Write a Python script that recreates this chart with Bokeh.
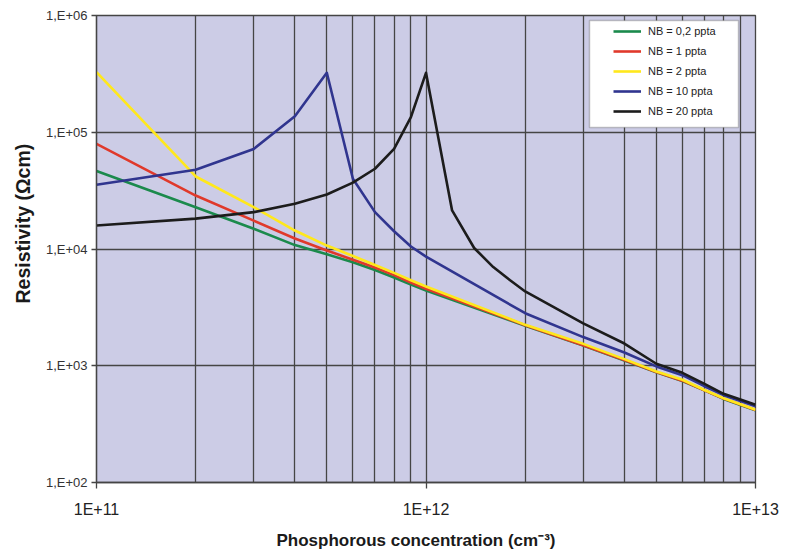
from bokeh.plotting import figure
from bokeh.models import FixedTicker, Legend, LegendItem, BoxAnnotation, Title
from bokeh.embed import file_html
from bokeh.resources import INLINE

# ---- data ----
conc = [1e11, 2e11, 3e11, 4e11, 5e11, 6e11, 7e11, 8e11, 9e11, 1e12,
        2e12, 3e12, 4e12, 5e12, 6e12, 7e12, 8e12, 9e12, 1e13]

rho_nb02 = [4.65e4, 2.28e4, 1.49e4, 1.08e4, 9.0e3, 7.7e3, 6.6e3, 5.7e3, 4.95e3, 4.4e3,
            2.2e3, 1.49e3, 1.11e3, 880, 740, 615, 520, 462, 415]
rho_nb1 = [7.96e4, 2.87e4, 1.75e4, 1.23e4, 9.7e3, 8.1e3, 6.95e3, 5.97e3, 5.17e3, 4.56e3,
           2.22e3, 1.5e3, 1.12e3, 885, 745, 617, 523, 465, 418]
rho_nb2 = [3.27e5, 4.18e4, 2.28e4, 1.44e4, 1.07e4, 8.7e3, 7.3e3, 6.25e3, 5.4e3, 4.78e3,
           2.24e3, 1.54e3, 1.14e3, 893, 758, 620, 527, 468, 420]
rho_nb10 = [3.55e4, 4.77e4, 7.2e4, 1.37e5, 3.23e5, 4.0e4, 2.07e4, 1.42e4, 1.05e4, 8.6e3,
            2.82e3, 1.76e3, 1.3e3, 987, 830, 668, 560, 500, 450]

conc_nb20 = [1e11, 2e11, 3e11, 4e11, 5e11, 6e11, 7e11, 8e11, 9e11, 1e12,
             1.2e12, 1.4e12, 1.6e12, 1.8e12, 2e12, 3e12, 4e12, 5e12,
             6e12, 7e12, 8e12, 9e12, 1e13]
rho_nb20 = [1.59e4, 1.82e4, 2.07e4, 2.44e4, 2.93e4, 3.7e4, 4.87e4, 7.2e4, 1.35e5, 3.23e5,
            2.14e4, 1.02e4, 7.0e3, 5.4e3, 4.33e3, 2.31e3, 1.55e3, 1.04e3,
            870, 700, 575, 514, 463]

series_labels = ["NB = 0,2 ppta", "NB = 1 ppta", "NB = 2 ppta", "NB = 10 ppta", "NB = 20 ppta"]
series_colors = ["#1B8A4C", "#E0392B", "#FFE81C", "#30358F", "#1C1C1C"]

x_ticks = [1e11, 1e12, 1e13]
x_tick_labels = ["1E+11", "1E+12", "1E+13"]
y_ticks = [1e2, 1e3, 1e4, 1e5, 1e6]
y_tick_labels = ["1,E+02", "1,E+03", "1,E+04", "1,E+05", "1,E+06"]
x_minor = [m * t for t in x_ticks[:-1] for m in range(2, 10)]

x_title = "Phosphorous concentration (cm\u207b\u00b3)"
y_title = "Resistivity (\u03a9cm)"

# ---- figure ----
p = figure(width=786, height=558, x_axis_type="log", y_axis_type="log",
           x_range=(1e11, 1e13), y_range=(1e2, 1e6),
           output_backend="svg", toolbar_location=None,
           min_border_left=95, min_border_right=31, min_border_top=15, min_border_bottom=76)

p.background_fill_color = "#CCCCE6"
p.border_fill_color = "white"
p.outline_line_color = "#454545"
p.outline_line_width = 1.3

grid_col = "#454545"
p.xaxis.ticker = FixedTicker(ticks=x_ticks, minor_ticks=x_minor)
p.yaxis.ticker = FixedTicker(ticks=y_ticks, minor_ticks=[])
p.xgrid.grid_line_color = grid_col
p.xgrid.grid_line_width = 1.3
p.xgrid.minor_grid_line_color = grid_col
p.xgrid.minor_grid_line_width = 1.3
p.ygrid.grid_line_color = grid_col
p.ygrid.grid_line_width = 1.3

p.xaxis.major_label_overrides = {t: l for t, l in zip(x_ticks, x_tick_labels)}
p.yaxis.major_label_overrides = {t: l for t, l in zip(y_ticks, y_tick_labels)}

for ax in (p.xaxis, p.yaxis):
    ax.axis_line_color = grid_col
    ax.axis_line_width = 1.3
    ax.major_tick_line_color = grid_col
    ax.major_tick_line_width = 1.3
    ax.major_tick_in = 0
    ax.minor_tick_line_color = None
    ax.major_label_text_font = "Liberation Sans"

p.xaxis.major_tick_out = 6
p.yaxis.major_tick_out = 5
p.xaxis.major_label_text_font_size = "16px"
p.xaxis.major_label_text_color = "#222222"
p.xaxis.major_label_standoff = 12
p.yaxis.major_label_text_font_size = "13px"
p.yaxis.major_label_text_color = "#333333"
p.yaxis.major_label_standoff = 4

# axis titles (as side titles so they can be offset like the reference)
p.add_layout(Title(text=x_title, align="left", offset=180, standoff=16,
                   text_font="Liberation Sans", text_font_style="bold",
                   text_font_size="17px", text_color="#1a1a1a"), "below")
p.add_layout(Title(text=y_title, align="left", offset=179, standoff=18,
                   text_font="Liberation Sans", text_font_style="bold",
                   text_font_size="19.5px", text_color="#1a1a1a"), "left")

# ---- curves ----
xs = [conc, conc, conc, conc, conc_nb20]
ys = [rho_nb02, rho_nb1, rho_nb2, rho_nb10, rho_nb20]
renderers = []
for xv, yv, c in zip(xs, ys, series_colors):
    r = p.line(xv, yv, line_color=c, line_width=2.6, line_join="round")
    renderers.append(r)

# ---- legend ----
box = BoxAnnotation(left=493, right=642, bottom=355, top=462,
                    left_units="screen", right_units="screen",
                    bottom_units="screen", top_units="screen",
                    fill_color="white", fill_alpha=1.0,
                    line_color="#444444", line_width=1.5)
p.add_layout(box)

legend = Legend(items=[LegendItem(label=l, renderers=[r]) for l, r in zip(series_labels, renderers)],
                location=(512, 360), padding=5, spacing=8,
                glyph_width=28, glyph_height=12, label_height=12,
                label_standoff=7,
                label_text_font="Liberation Sans", label_text_font_size="11px",
                label_text_color="#222222",
                background_fill_alpha=0, border_line_alpha=0)
p.add_layout(legend)

open("out.html", "w").write(file_html(p, INLINE))
